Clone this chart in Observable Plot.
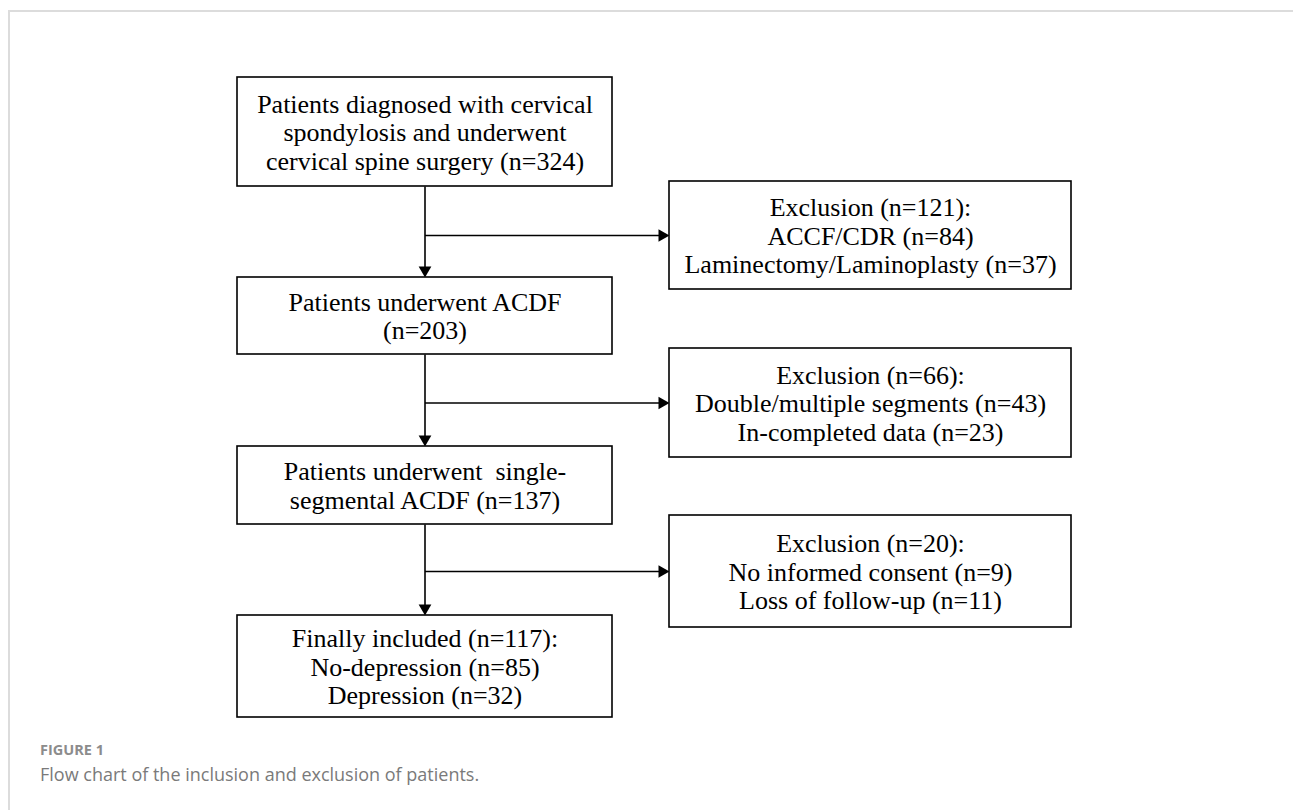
<!DOCTYPE html>
<html>
<head>
<meta charset="utf-8">
<script src="https://cdn.jsdelivr.net/npm/d3@7"></script>
<script src="https://cdn.jsdelivr.net/npm/@observablehq/plot@0.6"></script>
<style>
html, body { margin: 0; padding: 0; background: #fff; width: 1293px; height: 810px; overflow: hidden; }
#frame { position: absolute; left: 8px; top: 10px; right: 0; bottom: 0; border-top: 2px solid #dcdcdc; border-left: 2px solid #dcdcdc; pointer-events: none; }
#chart { position: absolute; left: 0; top: 0; }
#chart svg text { white-space: pre; }
.fig { position: absolute; left: 40px; top: 740px; font-family: "Open Sans", sans-serif; font-weight: 700; font-size: 14.5px; color: #8c8c8c; }
.cap { position: absolute; left: 40px; top: 762px; font-family: "Open Sans", sans-serif; font-size: 18px; color: #7a7a7a; }
</style>
</head>
<body>
<div id="chart"></div>
<div id="frame"></div>
<div class="fig">FIGURE 1</div>
<div class="cap">Flow chart of the inclusion and exclusion of patients.</div>
<script>
// ---- Data ----
const stageNames = [
  "Patients diagnosed with cervical\nspondylosis and underwent\ncervical spine surgery",
  "Patients underwent ACDF\n",
  "Patients underwent  single-\nsegmental ACDF",
  "Finally included"
];
const stageCounts = [324, 203, 137, 117];
const exclusionTotals = [121, 66, 20];
const exclusionReasons = [
  ["ACCF/CDR", "Laminectomy/Laminoplasty"],
  ["Double/multiple segments", "In-completed data"],
  ["No informed consent", "Loss of follow-up"]
];
const exclusionCounts = [[84, 37], [43, 23], [9, 11]];
const outcomeGroups = ["No-depression", "Depression"];
const outcomeCounts = [85, 32];

// ---- Layout (flowchart grid) ----
const W = 1293, H = 730;
const colMain = [237, 612];
const colExcl = [669, 1071];
const rowStage = [[77, 186], [277, 354], [446, 524], [615, 717]];
const rowExcl = [[181, 289], [348, 457], [515, 627]];

// ---- Build tables ----
const stageText = stageNames.map((name, i) => {
  if (i === stageNames.length - 1) {
    return `${name} (n=${stageCounts[i]}):\n` +
      outcomeGroups.map((g, j) => `${g} (n=${outcomeCounts[j]})`).join("\n");
  }
  return name + (name.endsWith("\n") ? "" : " ") + `(n=${stageCounts[i]})`;
});
const exclText = exclusionTotals.map((t, i) =>
  `Exclusion (n=${t}):\n` + exclusionReasons[i].map((r, j) => `${r} (n=${exclusionCounts[i][j]})`).join("\n"));

const boxes = [
  ...stageText.map((text, i) => ({x1: colMain[0], x2: colMain[1], y1: rowStage[i][0], y2: rowStage[i][1], text})),
  ...exclText.map((text, i) => ({x1: colExcl[0], x2: colExcl[1], y1: rowExcl[i][0], y2: rowExcl[i][1], text}))
];
boxes.forEach(b => { b.cx = (b.x1 + b.x2) / 2; b.cy = (b.y1 + b.y2) / 2; });

const headLen = 11;
const r = Math.sqrt((headLen / 3) ** 2 * 3 * Math.sqrt(3) / Math.PI);
const tipOff = 2 * headLen / 3;
const cxMain = (colMain[0] + colMain[1]) / 2;

const links = [];
const heads = [];
for (let i = 0; i < rowStage.length - 1; i++) {
  const yTop = rowStage[i][1], yNext = rowStage[i + 1][0];
  links.push({x1: cxMain, y1: yTop, x2: cxMain, y2: yNext - headLen + 1});
  heads.push({x: cxMain, y: yNext - tipOff, rotate: 180});
  const by = (rowExcl[i][0] + rowExcl[i][1]) / 2;
  links.push({x1: cxMain, y1: by, x2: colExcl[0] - headLen + 1, y2: by});
  heads.push({x: colExcl[0] - tipOff, y: by, rotate: 90});
}

const chart = Plot.plot({
  width: W,
  height: H,
  margin: 0,
  x: {type: "linear", domain: [0, W], range: [0, W], axis: null},
  y: {type: "linear", domain: [0, H], range: [0, H], axis: null},
  marks: [
    Plot.link(links, {x1: "x1", y1: "y1", x2: "x2", y2: "y2", stroke: "black", strokeWidth: 1.6}),
    Plot.dot(heads, {x: "x", y: "y", symbol: "triangle", r, rotate: "rotate", fill: "black", stroke: "none"}),
    Plot.rect(boxes, {x1: "x1", x2: "x2", y1: "y1", y2: "y2", fill: "white", stroke: "black", strokeWidth: 1.6}),
    Plot.text(boxes, {x: "cx", y: "cy", text: "text", fontSize: 26, fontFamily: "Liberation Serif, Times New Roman, serif", lineHeight: 1.1, fill: "black", lineAnchor: "middle", textAnchor: "middle"})
  ]
});
document.getElementById("chart").appendChild(chart);
</script>
</body>
</html>
